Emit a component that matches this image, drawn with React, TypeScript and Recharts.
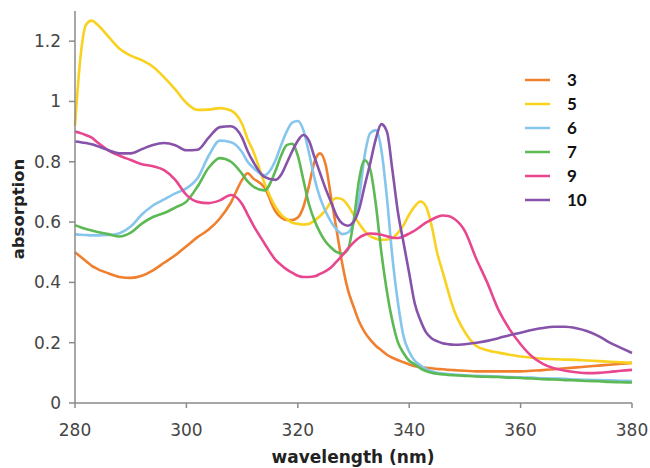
import { LineChart, Line, XAxis, YAxis, Legend } from "recharts"

const wavelength = [
  280, 281, 282, 283, 284, 286, 288, 290, 292, 294, 296, 298, 300, 302, 304, 306, 308, 310, 311, 312,
  314, 316, 317, 318, 319, 320, 321, 322, 323, 324, 325, 326, 327, 328, 329, 330, 331, 332, 333, 334,
  335, 336, 337, 338, 339, 340, 341, 342, 343, 344, 345, 346, 347, 348, 350, 352, 354, 356, 358, 360,
  362, 364, 366, 368, 370, 372, 374, 376, 378, 380,
]

const s3 = [
  0.5, 0.485, 0.47, 0.455, 0.445, 0.43, 0.418, 0.415, 0.422, 0.44, 0.465, 0.49, 0.52, 0.55, 0.575, 0.612, 0.665, 0.74, 0.762, 0.745,
  0.715, 0.635, 0.615, 0.607, 0.607, 0.615, 0.65, 0.72, 0.8, 0.828, 0.79, 0.68, 0.57, 0.46, 0.375, 0.32, 0.27, 0.235, 0.21, 0.19,
  0.175, 0.16, 0.15, 0.142, 0.135, 0.128, 0.122, 0.12, 0.117, 0.115, 0.113, 0.112, 0.11, 0.109, 0.107, 0.105, 0.105, 0.105, 0.105, 0.105,
  0.107, 0.109, 0.112, 0.115, 0.118, 0.121, 0.124, 0.127, 0.13, 0.133,
]

const s5 = [
  0.92, 1.15, 1.255, 1.268, 1.255, 1.215, 1.175, 1.152, 1.137, 1.115, 1.08, 1.04, 0.995, 0.972, 0.973, 0.978, 0.97, 0.925, 0.875, 0.835,
  0.73, 0.65, 0.625, 0.61, 0.598, 0.594, 0.592, 0.594, 0.605, 0.62, 0.64, 0.668, 0.68, 0.675, 0.655, 0.625, 0.595, 0.57, 0.553, 0.545,
  0.541, 0.542, 0.547, 0.565, 0.59, 0.625, 0.652, 0.668, 0.652, 0.59, 0.5, 0.435, 0.37, 0.31, 0.235, 0.19, 0.175, 0.167, 0.16, 0.154,
  0.15, 0.147, 0.145, 0.144, 0.143, 0.141, 0.139, 0.137, 0.135, 0.133,
]

const s6 = [
  0.56, 0.558, 0.557, 0.556, 0.556, 0.557, 0.563, 0.585, 0.625, 0.655, 0.675, 0.695, 0.712, 0.745, 0.82, 0.87, 0.865, 0.832, 0.8, 0.78,
  0.755, 0.805, 0.855, 0.9, 0.93, 0.935, 0.905, 0.83, 0.745, 0.68, 0.635, 0.6, 0.575, 0.56, 0.565, 0.6, 0.68, 0.82, 0.895, 0.905,
  0.84, 0.68, 0.48, 0.33, 0.22, 0.17, 0.14, 0.125, 0.113, 0.105, 0.1, 0.098, 0.096, 0.094, 0.092, 0.09, 0.089, 0.088, 0.086, 0.085,
  0.084, 0.082, 0.081, 0.08, 0.078, 0.077, 0.076, 0.075, 0.074, 0.073,
]

const s7 = [
  0.59, 0.583, 0.577, 0.572, 0.567, 0.56, 0.552, 0.565, 0.595, 0.617, 0.63, 0.648, 0.668, 0.718, 0.78, 0.812, 0.8, 0.76, 0.735, 0.718,
  0.705, 0.77, 0.82, 0.855, 0.86, 0.82, 0.74, 0.66, 0.605, 0.565, 0.535, 0.515, 0.5, 0.495, 0.51, 0.6, 0.74, 0.805, 0.775, 0.66,
  0.5, 0.37, 0.27, 0.2, 0.165, 0.14, 0.128, 0.115, 0.106, 0.1, 0.097, 0.095, 0.093, 0.092, 0.09, 0.088, 0.087, 0.086, 0.084, 0.083,
  0.081, 0.079, 0.078, 0.076, 0.075, 0.073, 0.072, 0.07, 0.069, 0.068,
]

const s9 = [
  0.9, 0.895, 0.888, 0.88, 0.865, 0.838, 0.82, 0.806, 0.792, 0.785, 0.772, 0.74, 0.69, 0.667, 0.663, 0.672, 0.69, 0.66, 0.625, 0.59,
  0.53, 0.475, 0.458, 0.443, 0.432, 0.422, 0.418, 0.418, 0.42, 0.428, 0.437, 0.45, 0.47, 0.49, 0.512, 0.532, 0.548, 0.558, 0.562, 0.561,
  0.558, 0.553, 0.548, 0.547, 0.553, 0.562, 0.572, 0.585, 0.598, 0.608, 0.617, 0.622, 0.62, 0.612, 0.57, 0.48, 0.4, 0.31, 0.245, 0.195,
  0.155, 0.13, 0.115, 0.107, 0.102, 0.099, 0.1, 0.103, 0.107, 0.11,
]

const s10 = [
  0.867, 0.865, 0.862, 0.858, 0.852, 0.838, 0.828, 0.828, 0.842, 0.856, 0.862, 0.855, 0.838, 0.84, 0.88, 0.915, 0.918, 0.88, 0.835, 0.8,
  0.75, 0.74, 0.757, 0.795, 0.835, 0.87, 0.889, 0.87, 0.815, 0.762, 0.71, 0.665, 0.62, 0.595, 0.588, 0.6, 0.642, 0.72, 0.795, 0.875,
  0.925, 0.9, 0.77, 0.63, 0.53, 0.43, 0.33, 0.275, 0.235, 0.215, 0.205, 0.198, 0.195, 0.193, 0.195, 0.2, 0.206, 0.215, 0.225, 0.233,
  0.242, 0.249, 0.253, 0.253, 0.248, 0.238, 0.222, 0.2, 0.183, 0.166,
]

const seriesNames = ["3", "5", "6", "7", "9", "10"]
const seriesValues = [s3, s5, s6, s7, s9, s10]
const colors = ["#f07f2e", "#f9d11f", "#86c5ec", "#5cb953", "#e8478f", "#8652aa"]

const xTicks = [280, 300, 320, 340, 360, 380]
const yTicks = [0, 0.2, 0.4, 0.6, 0.8, 1, 1.2]

const data = wavelength.map((w, i) => {
  const row: Record<string, number> = { wl: w }
  seriesNames.forEach((n, k) => {
    row["s" + n] = seriesValues[k][i]
  })
  return row
})

const tickStyle = { fontSize: 17, fill: "#454545", fontFamily: "DejaVu Sans" }

function renderLegend() {
  return (
    <svg width={90} height={150}>
      {seriesNames.map((n, i) => (
        <g key={n}>
          <line x1={3} x2={28} y1={12 + i * 24} y2={12 + i * 24} stroke={colors[i]} strokeWidth={2.5} />
          <text x={45} y={12 + i * 24} dy="0.36em" fontSize={17} fontWeight="bold" fontFamily="Lato" fill="#111">
            {n}
          </text>
        </g>
      ))}
    </svg>
  )
}

export default function App() {
  return (
    <div style={{ position: "absolute", left: 0, top: 0, width: 650, height: 468, background: "#fff" }}>
      <LineChart width={650} height={468} data={data} margin={{ top: 11, right: 18, left: 0, bottom: 0 }}>
        <XAxis
          dataKey="wl"
          type="number"
          domain={[280, 380]}
          ticks={xTicks}
          height={65}
          stroke="#8a8a8a"
          strokeWidth={1.5}
          tickSize={5}
          tickMargin={16}
          tick={tickStyle}
          label={{
            content: () => (
              <text x={353} y={463} textAnchor="middle" fontSize={17} fontWeight="bold" fontFamily="DejaVu Sans" fill="#222">
                wavelength (nm)
              </text>
            ),
          }}
        />
        <YAxis
          type="number"
          domain={[0, 1.3]}
          ticks={yTicks}
          width={75}
          stroke="#8a8a8a"
          strokeWidth={1.5}
          tickSize={6}
          tickMargin={8}
          tick={tickStyle}
          label={{
            content: () => (
              <text
                x={18}
                y={209}
                transform="rotate(-90 18 209)"
                textAnchor="middle"
                dominantBaseline="central"
                fontSize={16.5}
                fontWeight="bold"
                fontFamily="DejaVu Sans"
                fill="#222"
              >
                absorption
              </text>
            ),
          }}
        />
        <Legend
          layout="vertical"
          align="center"
          verticalAlign="middle"
          content={renderLegend}
          wrapperStyle={{ left: 522, top: 68, width: 90, height: 150 }}
        />
        {seriesNames.map((n, i) => (
          <Line
            key={n}
            type="monotone"
            dataKey={"s" + n}
            stroke={colors[i]}
            strokeWidth={2.6}
            dot={false}
            isAnimationActive={false}
          />
        ))}
      </LineChart>
    </div>
  )
}
